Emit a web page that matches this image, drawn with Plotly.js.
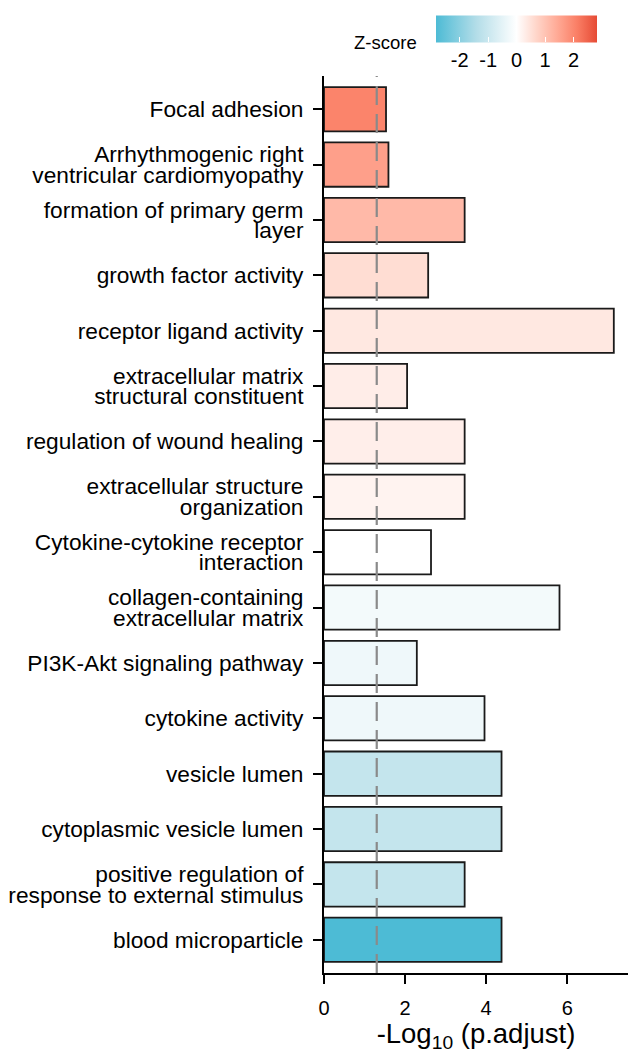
<!DOCTYPE html>
<html>
<head>
<meta charset="utf-8">
<script src="https://cdn.plot.ly/plotly-3.0.1.min.js"></script>
<style>html,body{margin:0;padding:0;background:#fff;}#chart{width:628px;height:1053px;}</style>
</head>
<body>
<div id="chart"></div>
<script>
// Categories, top to bottom
const terms = [
  "Focal adhesion",
  "Arrhythmogenic right<br>ventricular cardiomyopathy",
  "formation of primary germ<br>layer",
  "growth factor activity",
  "receptor ligand activity",
  "extracellular matrix<br>structural constituent",
  "regulation of wound healing",
  "extracellular structure<br>organization",
  "Cytokine-cytokine receptor<br>interaction",
  "collagen-containing<br>extracellular matrix",
  "PI3K-Akt signaling pathway",
  "cytokine activity",
  "vesicle lumen",
  "cytoplasmic vesicle lumen",
  "positive regulation of<br>response to external stimulus",
  "blood microparticle"
];
// -log10(p.adjust)
const negLogPadj = [1.53, 1.59, 3.47, 2.57, 7.15, 2.05, 3.47, 3.47, 2.64, 5.81, 2.29, 3.96, 4.38, 4.38, 3.47, 4.38];
// Z-score
const zScore = [2.05, 1.6, 1.18, 0.57, 0.39, 0.3, 0.28, 0.2, 0.0, -0.22, -0.3, -0.3, -1.1, -1.1, -1.1, -2.83];
const zTicks = [-2, -1, 0, 1, 2];
const xTicks = [0, 2, 4, 6];
const pCutoff = -Math.log10(0.05);
const zLim = 2.83;

const colorscale = [
  [0.0, '#4DBBD5'],
  [0.25, '#B3DDE8'],
  [0.5, '#FFFFFF'],
  [0.625, '#FFD5C9'],
  [0.75, '#FFAB97'],
  [0.875, '#FA7F66'],
  [1.0, '#E64B35']
];

const FONT = 'Liberation Sans, Arial, Helvetica, sans-serif';
const LABEL_SIZE = 22.7;
const LINE_PX = 20.7;          // line pitch of two-line category labels
const PLOTLY_LINE_EM = 1.3;    // Plotly's default line pitch

const trace = {
  type: 'bar',
  orientation: 'h',
  x: negLogPadj,
  y: terms,
  width: 0.8,
  marker: {
    color: zScore,
    colorscale: colorscale,
    cmin: -zLim,
    cmax: zLim,
    line: {color: '#1a1a1a', width: 1.8},
    colorbar: {
      orientation: 'h',
      thickness: 27, thicknessmode: 'pixels',
      len: 161, lenmode: 'pixels',
      x: 0.6336, xanchor: 'center',
      y: 1.033, yanchor: 'middle',
      xpad: 0, ypad: 0,
      outlinewidth: 0,
      ticks: 'inside', tickcolor: '#ffffff', ticklen: 5, tickwidth: 1,
      tickvals: zTicks,
      ticktext: zTicks.map(String),
      tickfont: {family: FONT, size: 20, color: '#000'}
    }
  },
  hoverinfo: 'none'
};

const layout = {
  width: 628, height: 1053,
  margin: {l: 324, r: 0, t: 76, b: 80},
  paper_bgcolor: '#fff', plot_bgcolor: '#fff',
  showlegend: false,
  xaxis: {
    range: [0, 7.5],
    tickvals: xTicks,
    ticktext: xTicks.map(String),
    showgrid: false, zeroline: false,
    showline: true, linecolor: '#000', linewidth: 2,
    ticks: 'outside', ticklen: 9, tickwidth: 2, tickcolor: '#000',
    ticklabelstandoff: 7,
    tickfont: {family: FONT, size: 20, color: '#000'},
    title: {text: '-Log<sub>10</sub> (p.adjust)', font: {family: FONT, size: 27.5, color: '#000'}, standoff: 20}
  },
  yaxis: {
    type: 'category',
    categoryorder: 'array',
    categoryarray: terms,
    range: [15.6, -0.6],
    showgrid: false, zeroline: false,
    showline: true, linecolor: '#000', linewidth: 2,
    ticks: 'outside', ticklen: 9, tickwidth: 2, tickcolor: '#000',
    ticklabelstandoff: 5,
    tickfont: {family: FONT, size: LABEL_SIZE, color: '#000'}
  },
  shapes: [{
    type: 'line', layer: 'above',
    xref: 'x', yref: 'paper',
    x0: pCutoff, x1: pCutoff, y0: 0, y1: 1,
    line: {color: '#8a8a8a', width: 2.2, dash: '19px,9px'}
  }],
  annotations: [{
    text: 'Z-score', showarrow: false,
    xref: 'paper', yref: 'paper',
    x: 0.313, xanchor: 'right',
    y: 1.0379, yanchor: 'middle',
    font: {family: FONT, size: 18.5, color: '#000'}
  }]
};

// Plotly gives every line tspan the same y and an offset dy = i * 1.3em;
// re-space the lines to a tighter pitch while keeping the block centred.
function tightenLabels(gd) {
  const plotlyPitch = PLOTLY_LINE_EM * LABEL_SIZE;
  gd.querySelectorAll('g.ytick text').forEach(function (textEl) {
    const lines = textEl.querySelectorAll('tspan.line');
    const n = lines.length;
    if (n < 2) return;
    const s = (n - 1) * (plotlyPitch - LINE_PX) / 2;
    lines.forEach(function (ln, i) {
      ln.setAttribute('dy', (s + i * LINE_PX) + 'px');
    });
  });
}

Plotly.newPlot('chart', [trace], layout, {displayModeBar: false, staticPlot: true})
  .then(function (gd) { tightenLabels(gd); });
</script>
</body>
</html>
